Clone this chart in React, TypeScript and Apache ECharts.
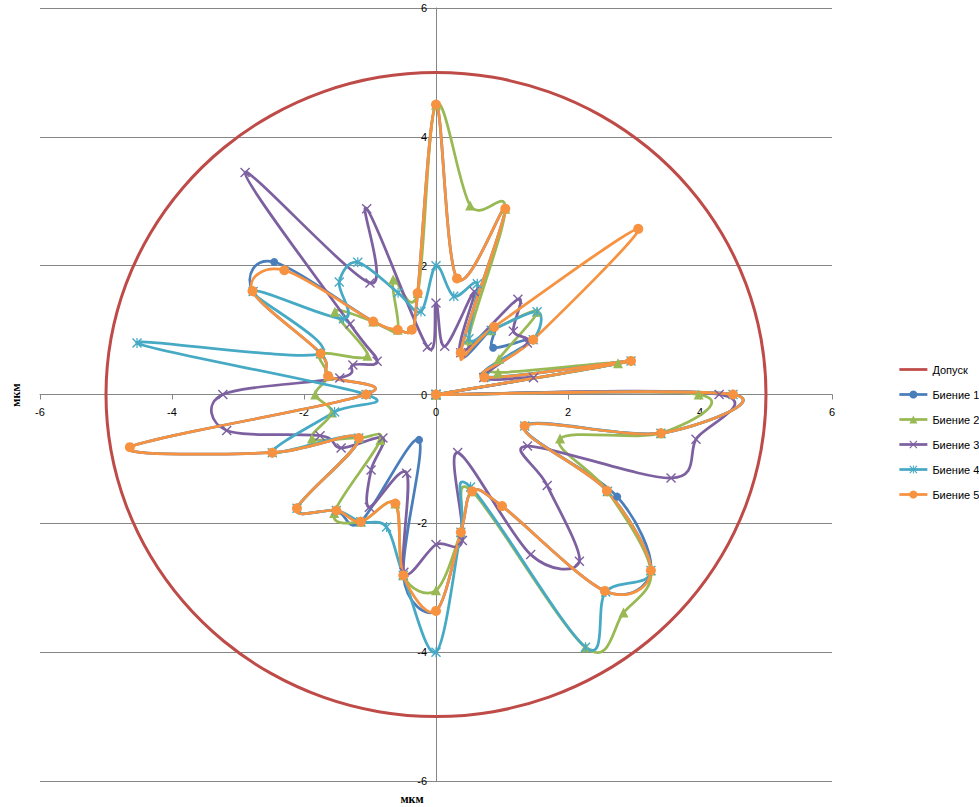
import React, { useEffect, useRef } from "react";
import * as echarts from "echarts";

// Angles (degrees) of the measured points; index 0 is the 0°/360° point
const ANGLES = [0, 10, 20, 30, 40, 50, 60, 70, 80, 90, 100, 110, 120, 130, 140, 150, 160, 170,
  180, 190, 200, 210, 220, 230, 240, 250, 260, 270, 280, 290, 300, 310, 320, 330, 340, 350];

// Tolerance radius at each angle
const R_TOL = [5, 5, 5, 5, 5, 5, 5, 5, 5, 5, 5, 5, 5, 5, 5, 5, 5, 5,
  5, 5, 5, 5, 5, 5, 5, 5, 5, 5, 5, 5, 5, 5, 5, 5, 5, 5];

// Runout radii (мкм) at each angle
const R1 = [4.5, 3.0, 0.78, 1.7, 1.13, 1.37, 0.75, 3.07, 1.83, 4.5, 1.6, 1.07, 1.16, 1.48, 3.2, 3.21, 1.86, 1.66,
  1.06, 4.71, 2.64, 1.35, 2.75, 2.35, 2.28, 0.75, 2.85, 3.36, 2.17, 1.6, 2.0, 3.98, 4.25, 3.17, 1.43, 3.46];
const R2 = [3.98, 2.8, 1.0, 1.1, 2.0, 1.3, 0.98, 3.07, 2.98, 4.5, 1.6, 1.9, 1.16, 1.48, 2.0, 1.2, 1.86, 1.66,
  1.83, 1.6, 2.0, 1.35, 1.1, 2.4, 2.28, 1.8, 2.85, 3.04, 2.17, 1.6, 4.53, 4.42, 4.25, 3.0, 2.0, 3.46];
const R3 = [4.29, 1.5, 0.77, 1.6, 1.53, 1.93, 0.75, 1.7, 0.76, 1.42, 0.75, 3.07, 2.0, 4.5, 1.7, 1.03, 1.34, 1.48,
  3.23, 3.22, 1.87, 1.66, 1.05, 1.53, 2.02, 1.3, 2.8, 2.33, 2.3, 0.96, 2.87, 3.38, 2.2, 1.6, 3.79, 4.0];
const R4 = [4.5, 3.0, 0.8, 1.7, 2.0, 1.3, 1.0, 1.83, 1.55, 2.0, 1.31, 1.68, 2.37, 2.28, 1.83, 3.2, 1.86, 4.6,
  1.06, 1.56, 2.64, 1.35, 2.75, 2.35, 2.28, 2.19, 2.85, 4.0, 2.17, 1.53, 4.53, 4.0, 4.25, 3.0, 1.43, 3.46];
const R5 = [4.5, 3.0, 0.78, 1.7, 4.0, 1.37, 0.75, 3.07, 1.83, 4.5, 1.6, 1.07, 1.16, 1.48, 3.0, 3.21, 1.86, 1.66,
  1.06, 4.71, 2.64, 1.35, 2.75, 2.35, 2.28, 1.8, 2.85, 3.36, 2.17, 1.6, 2.0, 3.98, 4.25, 2.99, 1.43, 3.46];

const SERIES_NAMES = ["Допуск", "Биение 1", "Биение 2", "Биение 3", "Биение 4", "Биение 5"];
const AXIS_TICKS = [-6, -4, -2, 0, 2, 4, 6];
const AXIS_TITLE = "мкм";

const toXY = (deg: number, r: number) => {
  const a = (deg * Math.PI) / 180;
  return [r * Math.cos(a), r * Math.sin(a)];
};

const tolPoints = () => {
  const pts = ANGLES.map((a, i) => toXY(a, R_TOL[i]));
  pts.push(toXY(360, R_TOL[0]));
  return pts;
};

const beatPoints = (r: number[]) => {
  const pts: number[][] = [[0, 0]];
  for (let i = 1; i < ANGLES.length; i++) pts.push(toXY(ANGLES[i], r[i]));
  pts.push(toXY(360, r[0]));
  pts.push([0, 0]);
  return pts;
};

// Catmull-Rom style smoothing (like spreadsheet "smoothed line")
const smoothPath = (c: number[][], closed: boolean) => {
  const n = c.length;
  const get = (i: number) => {
    if (closed) {
      if (i < 0) return c[n - 1 + i];
      if (i > n - 1) return c[i - (n - 1)];
      return c[i];
    }
    return c[Math.max(0, Math.min(n - 1, i))];
  };
  let d = `M${c[0][0].toFixed(2)},${c[0][1].toFixed(2)}`;
  for (let i = 0; i < n - 1; i++) {
    const p0 = get(i - 1), p1 = get(i), p2 = get(i + 1), p3 = get(i + 2);
    const c1x = p1[0] + (p2[0] - p0[0]) / 6;
    const c1y = p1[1] + (p2[1] - p0[1]) / 6;
    const c2x = p2[0] - (p3[0] - p1[0]) / 6;
    const c2y = p2[1] - (p3[1] - p1[1]) / 6;
    d += ` C${c1x.toFixed(2)},${c1y.toFixed(2)} ${c2x.toFixed(2)},${c2y.toFixed(2)} ${p2[0].toFixed(2)},${p2[1].toFixed(2)}`;
  }
  return d;
};

const X_SYMBOL = "path://M1,0 L5,4 L9,0 L10,1 L6,5 L10,9 L9,10 L5,6 L1,10 L0,9 L4,5 L0,1 Z";
const STAR_SYMBOL =
  "path://M1,0 L5,4 L9,0 L10,1 L6,5 L10,9 L9,10 L5,6 L1,10 L0,9 L4,5 L0,1 Z M4.4,0 L5.6,0 L5.6,10 L4.4,10 Z";

const COLORS = ["#BE4B48", "#4A7EBB", "#98B954", "#7D60A0", "#46AAC5", "#F69240"];

export default function App() {
  const ref = useRef<HTMLDivElement>(null);
  useEffect(() => {
    if (!ref.current) return;
    const chart = echarts.init(ref.current, null, { renderer: "svg" });
    const gray = "#868686";
    const W = 979, H = 807;
    const grid = { left: 40, right: 147, top: 8, bottom: 26 };
    const plotW = W - grid.left - grid.right;
    const plotH = H - grid.top - grid.bottom;
    const axisCommon = {
      type: "value",
      min: AXIS_TICKS[0],
      max: AXIS_TICKS[AXIS_TICKS.length - 1],
      interval: 2,
      axisLine: { onZero: false, lineStyle: { color: gray, width: 1 } },
      axisTick: { show: true, length: 5, lineStyle: { color: gray } },
      axisLabel: { color: "#000", fontSize: 11, fontFamily: "Liberation Sans" },
    };

    const curveSeries = (name: string, pts: number[][], color: string, width: number, closed: boolean) => ({
      name,
      type: "custom",
      coordinateSystem: "cartesian2d",
      data: pts,
      silent: true,
      clip: false,
      renderItem: (params: any, api: any) => {
        if (params.dataIndex !== 0) return null;
        const c = pts.map((p) => api.coord(p));
        return {
          type: "path",
          shape: { pathData: smoothPath(c, closed) },
          style: { fill: "none", stroke: color, lineWidth: width, lineJoin: "round", lineCap: "round" },
        };
      },
    });

    const markerSeries = (name: string, pts: number[][], color: string, symbol: string, symbolSize: number) => ({
      name,
      type: "line",
      data: pts,
      symbol,
      symbolSize,
      showSymbol: symbol !== "none",
      lineStyle: { width: 0, opacity: 0 },
      itemStyle: { color },
      emphasis: { disabled: true },
      silent: true,
      clip: false,
    });

    const beats = [R1, R2, R3, R4, R5];
    const symbols: [string, number][] = [
      ["circle", 8],
      ["triangle", 10],
      [X_SYMBOL, 10],
      [STAR_SYMBOL, 10],
      ["circle", 10],
    ];

    const series: any[] = [];
    const tol = tolPoints();
    series.push(curveSeries(SERIES_NAMES[0] + " (линия)", tol, COLORS[0], 3, true));
    series.push(markerSeries(SERIES_NAMES[0], tol, COLORS[0], "none", 0));
    beats.forEach((r, k) => {
      const pts = beatPoints(r);
      series.push(curveSeries(SERIES_NAMES[k + 1] + " (линия)", pts, COLORS[k + 1], 2.75, false));
      series.push(markerSeries(SERIES_NAMES[k + 1], pts, COLORS[k + 1], symbols[k][0], symbols[k][1]));
    });

    chart.setOption({
      animation: false,
      grid,
      xAxis: {
        ...axisCommon,
        position: "bottom",
        offset: -plotH / 2,
        axisLabel: { ...axisCommon.axisLabel, margin: 12 },
        splitLine: { show: false },
      },
      yAxis: {
        ...axisCommon,
        position: "left",
        offset: -plotW / 2,
        axisLabel: { ...axisCommon.axisLabel, margin: 9 },
        splitLine: { show: true, lineStyle: { color: gray, width: 1 } },
      },
      legend: {
        orient: "vertical",
        left: 893,
        top: 359,
        itemWidth: 28,
        itemHeight: 10,
        itemGap: 14,
        textStyle: { fontSize: 11, fontFamily: "Liberation Sans", color: "#000" },
        data: SERIES_NAMES.map((name, i) => ({
          name,
          lineStyle: { color: COLORS[i], width: 2.75, opacity: 1 },
          ...(i === 0 ? { itemStyle: { opacity: 0 } } : {}),
        })),
      },
      graphic: [
        {
          type: "text",
          x: 16,
          y: 395,
          rotation: Math.PI / 2,
          style: {
            text: AXIS_TITLE,
            font: "bold 12px 'Liberation Serif'",
            fill: "#000",
            textAlign: "center",
            textVerticalAlign: "middle",
          },
        },
        {
          type: "text",
          x: 412,
          y: 799,
          style: {
            text: AXIS_TITLE,
            font: "bold 12px 'Liberation Serif'",
            fill: "#000",
            textAlign: "center",
            textVerticalAlign: "middle",
          },
        },
      ],
      series,
    });
    return () => chart.dispose();
  }, []);
  return (
    <div
      ref={ref}
      style={{ position: "absolute", left: 0, top: 0, width: 979, height: 807 }}
    />
  );
}
